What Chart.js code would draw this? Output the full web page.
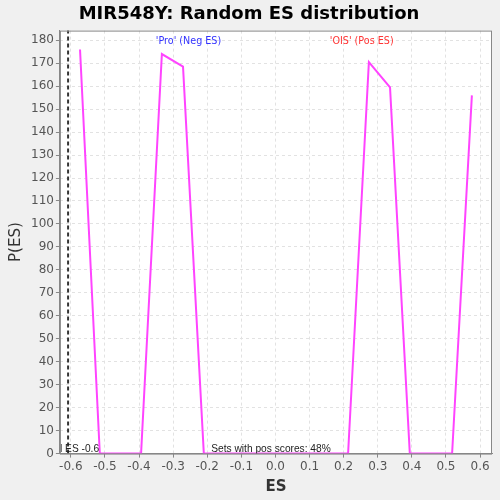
<!DOCTYPE html>
<html>
<head>
<meta charset="utf-8">
<script src="https://cdn.jsdelivr.net/npm/chart.js@4/dist/chart.umd.min.js"></script>
<style>
  body { margin: 0; background: #f0f0f0; }
  canvas { display: block; }
</style>
</head>
<body>
<canvas id="esChart" width="500" height="500"></canvas>
<script>
// ES values (bin centres) and P(ES)
const esValues = [-0.573, -0.515, -0.394, -0.333, -0.271, -0.21, 0.213, 0.274, 0.336, 0.394, 0.518, 0.576];
const pValues = [176, 0, 0, 174, 168.5, 0, 0, 170.5, 159.5, 0, 0, 156];
const realES = -0.608;
const xTicks = [-0.6, -0.5, -0.4, -0.3, -0.2, -0.1, 0.0, 0.1, 0.2, 0.3, 0.4, 0.5, 0.6];
const yTicks = [0, 10, 20, 30, 40, 50, 60, 70, 80, 90, 100, 110, 120, 130, 140, 150, 160, 170, 180];

const points = esValues.map((x, i) => ({ x: x, y: pValues[i] }));

const labelsPlugin = {
  id: "labels",
  beforeDraw(chart) {
    const a = chart.chartArea;
    const ctx = chart.ctx;
    ctx.save();
    ctx.fillStyle = "#ffffff";
    ctx.fillRect(a.left, a.top, a.right - a.left, a.bottom - a.top);
    ctx.restore();
  },
  afterDatasetsDraw(chart) {
    const a = chart.chartArea;
    const xs = chart.scales.x;
    const ctx = chart.ctx;
    ctx.save();
    ctx.beginPath();
    ctx.rect(a.left, a.top, a.right - a.left, a.bottom - a.top);
    ctx.clip();
    ctx.font = "10.2px 'Liberation Sans'";
    ctx.textBaseline = "bottom";
    ctx.fillStyle = "#222";
    ctx.textAlign = "right";
    ctx.fillText("Real ES -0.6", xs.getPixelForValue(realES) + 31, a.bottom + 1);
    ctx.textAlign = "center";
    ctx.fillText("Sets with pos scores: 48%", xs.getPixelForValue(-0.013), a.bottom + 1);
    ctx.textBaseline = "middle";
    ctx.font = "9.6px 'DejaVu Sans'";
    ctx.fillStyle = "#3333ff";
    ctx.fillText("'Pro' (Neg ES)", xs.getPixelForValue(-0.255), a.top + 11);
    ctx.fillStyle = "#ff3333";
    ctx.fillText("'OIS' (Pos ES)", xs.getPixelForValue(0.253), a.top + 11);
    ctx.restore();
    // plot frame
    ctx.save();
    ctx.strokeStyle = "#888";
    ctx.lineWidth = 1;
    ctx.strokeRect(a.left + 0.5, a.top + 0.5, a.right - a.left - 1, a.bottom - a.top);
    ctx.restore();
  }
};

new Chart(document.getElementById("esChart"), {
  type: "scatter",
  data: {
    datasets: [
      {
        data: points,
        showLine: true,
        borderColor: "#ff44ff",
        borderWidth: 2,
        pointRadius: 0,
        tension: 0
      },
      {
        data: [{ x: realES, y: 0 }, { x: realES, y: 185 }],
        showLine: true,
        borderColor: "#333333",
        borderWidth: 2,
        borderDash: [4, 3],
        pointRadius: 0
      }
    ]
  },
  options: {
    responsive: false,
    animation: false,
    layout: { padding: { left: 6, right: 8, top: 0, bottom: 0 } },
    plugins: {
      legend: { display: false },
      tooltip: { enabled: false },
      title: {
        display: true,
        text: "MIR548Y: Random ES distribution",
        color: "#000",
        font: { family: "'DejaVu Sans'", size: 18, weight: "bold" },
        padding: { top: 4, bottom: 5 }
      }
    },
    scales: {
      x: {
        type: "linear",
        min: -0.632,
        max: 0.635,
        afterBuildTicks: (s) => { s.ticks = xTicks.map(v => ({ value: v })); },
        ticks: {
          color: "#555",
          font: { family: "'DejaVu Sans'", size: 12 },
          padding: 2,
          callback: (v) => v.toFixed(1)
        },
        grid: { color: "#e2e2e2", tickLength: 4, tickColor: "#888" },
        border: { color: "#888", dash: [3, 3] },
        title: {
          display: true,
          text: "ES",
          color: "#333",
          font: { family: "'DejaVu Sans'", size: 15, weight: "bold" },
          padding: { top: 2, bottom: 4 }
        }
      },
      y: {
        min: 0,
        max: 184.2,
        afterBuildTicks: (s) => { s.ticks = yTicks.map(v => ({ value: v })); },
        ticks: {
          color: "#555",
          font: { family: "'DejaVu Sans'", size: 12 },
          padding: 2
        },
        grid: { color: "#e2e2e2", tickLength: 4, tickColor: "#888" },
        border: { color: "#888", dash: [3, 3] },
        title: {
          display: true,
          text: "P(ES)",
          color: "#333",
          font: { family: "'DejaVu Sans'", size: 15 },
          padding: { top: 1, bottom: 4 }
        }
      }
    }
  },
  plugins: [labelsPlugin]
});
</script>
</body>
</html>
